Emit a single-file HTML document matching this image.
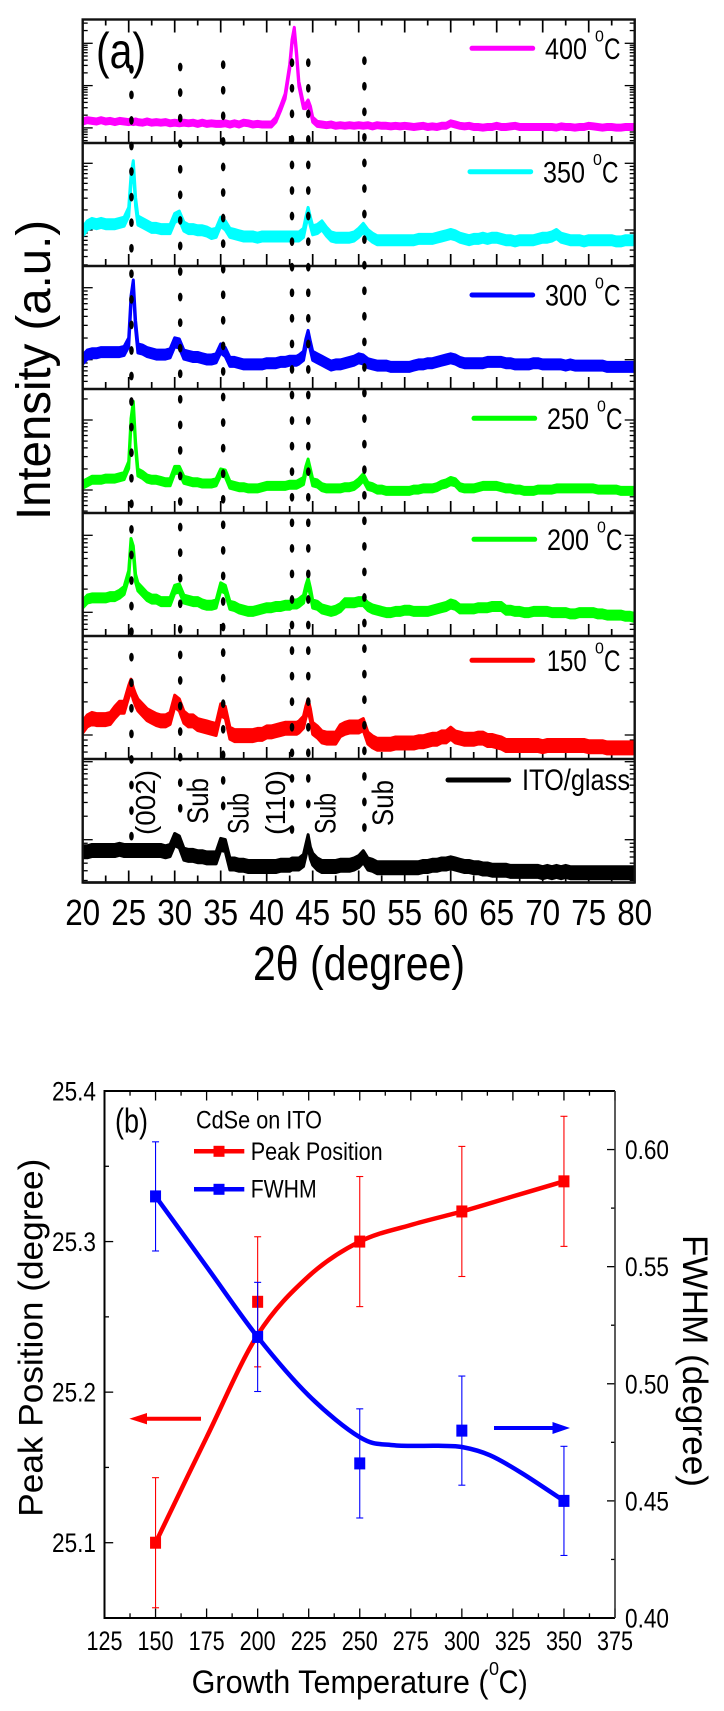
<!DOCTYPE html>
<html lang="en">
<head>
<meta charset="utf-8">
<title>CdSe on ITO XRD chart</title>
<style>
html,body{margin:0;padding:0;background:#fff;}
svg{display:block;font-family:"Liberation Sans",sans-serif;}
text{fill:#000;}
.spec{stroke-width:3;stroke-linejoin:round;stroke-linecap:round;}
</style>
</head>
<body>
<svg id="chart" xmlns="http://www.w3.org/2000/svg" width="724" height="1711" viewBox="0 0 724 1711">
<defs><clipPath id="plotA"><rect x="82.7" y="19.5" width="552" height="863"/></clipPath></defs>
<g id="ticksA"></g>
<g id="seriesA" clip-path="url(#plotA)"></g>
<g id="framesA"></g>
<g id="dotsA"></g>

<text x="96" y="68" font-size="50" textLength="50" lengthAdjust="spacingAndGlyphs">(a)</text>

<g>
<line x1="472" x2="532.7" y1="48.3" y2="48.3" stroke="#ff00ff" stroke-width="5" stroke-linecap="round"/>
<text x="545" y="59" font-size="30" textLength="42" lengthAdjust="spacingAndGlyphs">400</text>
<text x="595" y="41.7" font-size="16">0</text>
<text x="604" y="59" font-size="30" textLength="16.5" lengthAdjust="spacingAndGlyphs">C</text>
</g>
<g>
<line x1="470" x2="530.7" y1="171.7" y2="171.7" stroke="#00ffff" stroke-width="5" stroke-linecap="round"/>
<text x="543" y="182.4" font-size="30" textLength="42" lengthAdjust="spacingAndGlyphs">350</text>
<text x="593" y="165.1" font-size="16">0</text>
<text x="602" y="182.4" font-size="30" textLength="16.5" lengthAdjust="spacingAndGlyphs">C</text>
</g>
<g>
<line x1="472" x2="532.7" y1="295" y2="295" stroke="#0000ff" stroke-width="5" stroke-linecap="round"/>
<text x="545" y="305.7" font-size="30" textLength="42" lengthAdjust="spacingAndGlyphs">300</text>
<text x="595" y="288.4" font-size="16">0</text>
<text x="604" y="305.7" font-size="30" textLength="16.5" lengthAdjust="spacingAndGlyphs">C</text>
</g>
<g>
<line x1="474" x2="534.7" y1="418.3" y2="418.3" stroke="#00ff00" stroke-width="5" stroke-linecap="round"/>
<text x="547" y="429" font-size="30" textLength="42" lengthAdjust="spacingAndGlyphs">250</text>
<text x="597" y="411.7" font-size="16">0</text>
<text x="606" y="429" font-size="30" textLength="16.5" lengthAdjust="spacingAndGlyphs">C</text>
</g>
<g>
<line x1="474" x2="534.7" y1="539.3" y2="539.3" stroke="#00ff00" stroke-width="5" stroke-linecap="round"/>
<text x="547" y="550" font-size="30" textLength="42" lengthAdjust="spacingAndGlyphs">200</text>
<text x="597" y="532.7" font-size="16">0</text>
<text x="606" y="550" font-size="30" textLength="16.5" lengthAdjust="spacingAndGlyphs">C</text>
</g>
<g>
<line x1="472" x2="532.7" y1="660.3" y2="660.3" stroke="#ff0000" stroke-width="5" stroke-linecap="round"/>
<text x="546.7" y="671" font-size="30" textLength="40" lengthAdjust="spacingAndGlyphs">150</text>
<text x="595" y="653.7" font-size="16">0</text>
<text x="604" y="671" font-size="30" textLength="16.5" lengthAdjust="spacingAndGlyphs">C</text>
</g>
<g>
<line x1="448" x2="508.7" y1="780" y2="780" stroke="#000" stroke-width="5" stroke-linecap="round"/>
<text x="522" y="790" font-size="30" textLength="108" lengthAdjust="spacingAndGlyphs">ITO/glass</text>
</g>

<text transform="translate(155 835) rotate(-90)" font-size="28" textLength="65" lengthAdjust="spacingAndGlyphs">(002)</text>
<text transform="translate(208 824) rotate(-90)" font-size="30" textLength="46" lengthAdjust="spacingAndGlyphs">Sub</text>
<text transform="translate(248.4 834) rotate(-90)" font-size="30" textLength="41" lengthAdjust="spacingAndGlyphs">Sub</text>
<text transform="translate(285 835) rotate(-90)" font-size="28" textLength="65" lengthAdjust="spacingAndGlyphs">(110)</text>
<text transform="translate(335.5 834) rotate(-90)" font-size="30" textLength="41" lengthAdjust="spacingAndGlyphs">Sub</text>
<text transform="translate(393 826) rotate(-90)" font-size="30" textLength="46" lengthAdjust="spacingAndGlyphs">Sub</text>

<g id="xLabelsA"></g>
<text x="253" y="980" font-size="48" textLength="212" lengthAdjust="spacingAndGlyphs">2θ (degree)</text>
<text transform="translate(50 520) rotate(-90)" font-size="48" textLength="300" lengthAdjust="spacingAndGlyphs">Intensity (a.u.)</text>

<g id="panelB"></g>

<text x="115" y="1132.7" font-size="34" textLength="33" lengthAdjust="spacingAndGlyphs">(b)</text>
<text x="196" y="1128.3" font-size="25" textLength="126" lengthAdjust="spacingAndGlyphs">CdSe on ITO</text>
<g>
<line x1="194" x2="244.3" y1="1151.3" y2="1151.3" stroke="#ff0000" stroke-width="4.5"/>
<rect x="213.5" y="1145.8" width="11" height="11" fill="#ff0000"/>
<text x="250.7" y="1160" font-size="25" textLength="132" lengthAdjust="spacingAndGlyphs">Peak Position</text>
</g>
<g>
<line x1="194" x2="244.3" y1="1189.3" y2="1189.3" stroke="#0000ff" stroke-width="4.5"/>
<rect x="213.5" y="1183.8" width="11" height="11" fill="#0000ff"/>
<text x="250.7" y="1197.7" font-size="25" textLength="66" lengthAdjust="spacingAndGlyphs">FWHM</text>
</g>
<g>
<line x1="201" x2="140" y1="1418.7" y2="1418.7" stroke="#ff0000" stroke-width="4"/>
<polygon points="129.3,1418.7 147,1413 147,1424.4" fill="#ff0000"/>
</g>
<g>
<line x1="494" x2="558" y1="1428" y2="1428" stroke="#0000ff" stroke-width="4"/>
<polygon points="570,1428 552.5,1422 552.5,1434" fill="#0000ff"/>
</g>
<text x="191.6" y="1693" font-size="32" textLength="297" lengthAdjust="spacingAndGlyphs">Growth Temperature (</text>
<text x="489" y="1675" font-size="18">0</text>
<text x="498.6" y="1693" font-size="32" textLength="29" lengthAdjust="spacingAndGlyphs">C)</text>
<text transform="translate(42.5 1516.7) rotate(-90)" font-size="34" textLength="358" lengthAdjust="spacingAndGlyphs">Peak Position (degree)</text>
<text transform="translate(683 1235) rotate(90)" font-size="35" textLength="252" lengthAdjust="spacingAndGlyphs">FWHM (degree)</text>
</svg>

<script>
const twoTheta = [20,20.5,21,21.5,22,22.5,23,23.5,24,24.5,25,25.25,25.5,25.75,26,26.5,27,27.5,28,28.5,29,29.5,
30,30.5,31,31.5,32,32.5,33,33.5,34,34.5,35,35.5,36,36.5,37,37.5,38,38.5,39,39.5,
40,40.5,41,41.5,42,42.5,42.75,43,43.25,43.5,44,44.25,44.5,44.75,45,45.5,46,46.5,47,47.5,48,48.5,49,49.5,
50,50.5,51,51.5,52,52.5,53,53.5,54,54.5,55,55.5,56,56.5,57,57.5,58,58.5,59,59.5,
60,60.5,61,61.5,62,62.5,63,63.5,64,64.5,65,65.5,66,66.5,67,67.5,68,68.5,69,69.5,
70,70.5,71,71.5,72,72.5,73,73.5,74,74.5,75,75.5,76,76.5,77,77.5,78,78.5,79,79.5,80];

const intensity400 = [17.5,18.5,18,17.5,18.5,17.5,18,17,18,17.5,17,17.5,17,17.5,17,16.5,17.5,16.5,17,16.5,17,16,
16.5,16,16.5,16,16.5,15.5,16.5,15.5,16,15.5,15.5,16,15,16,15,16.5,16,15,15.5,15,
15,15,19,28,38,62,82,92,72,48,30,30,33,28,19,15.5,15,14.5,15,14,14.5,14,14.5,14,
14.5,14,14.5,13.5,14.5,14,14,13.5,14,13.5,14,13.5,13,13.5,14,13,13.5,13,14,14,
16,15,14,13.5,14,13,13,12.5,13,13,14,13,13,13.5,14,13,13,13,13,13,
13,13,13,12.5,13.5,13,13,12.5,13,13,14,13.5,13,12.5,13,13,12.5,12.5,13,13,13];

const intensity350 = [28,33,35,34,35,34,34,34,35,36,44,70,82,52,37,35,33,31,31,30,30,30,
39,41,32,30,30,29,29,28,26,27,36,33,27,26,25,24,24,24,23,24,
24,24,24,24,24,24,24,24,24,24,27,36,44,36,29,30,33,28,24,23,23,23,23,24,
27,31,26,23,21,21,21,21,21,21,21,21,21,22,22,22,22,23,24,25,
26,25,23,22,21,22,22,23,22,23,23,22,21,21,20,21,21,21,21,22,
23,23,24,26,23,22,21,21,21,20,21,21,21,21,21,21,20,20,21,21,21];

const intensity300 = [24,28,29,29,30,30,30,30,30,31,38,72,85,52,33,32,30,29,28,28,28,29,
38,37,28,27,26,26,25,24,24,25,33,30,22,22,21,20,20,20,20,20,
21,21,21,22,22,23,23,23,23,24,27,37,44,35,27,25,23,21,19,20,20,21,22,23,
25,24,21,20,19,19,19,18,18,18,18,18,19,20,20,21,21,22,23,24,
25,24,22,21,21,21,21,21,22,22,22,22,21,21,20,20,20,20,21,21,
20,20,20,20,20,19,20,19,19,19,19,19,19,19,18,18,18,18,18,18,18];

const intensity250 = [23,25,27,27,27,28,28,28,29,30,39,74,88,55,33,31,28,27,27,26,25,25,
35,35,27,26,25,25,24,24,24,25,33,32,23,22,21,21,20,20,20,21,
22,22,22,22,22,23,23,23,23,24,26,35,41,33,25,24,21,20,20,20,20,21,21,22,
25,29,22,21,19,19,18,18,18,18,18,18,19,19,20,20,20,21,23,24,
26,25,21,20,20,20,21,22,22,22,22,21,20,20,19,19,18,18,18,19,
19,19,19,20,20,20,20,20,20,20,20,20,19,19,19,19,19,18,18,18,18];

const intensity200 = [26,30,31,31,31,31,32,32,34,37,50,76,70,47,40,36,32,30,30,28,28,28,
38,39,30,29,28,28,26,25,25,26,40,38,25,24,22,21,20,20,21,22,
23,23,24,24,25,25,26,26,26,27,30,38,44,36,26,25,22,21,20,21,23,27,27,27,
28,28,24,22,21,20,19,19,20,20,21,21,20,20,20,20,21,22,23,24,
26,25,22,22,22,22,23,23,23,24,24,24,21,21,20,20,19,19,20,20,
20,20,19,19,19,19,18,18,19,19,19,19,18,18,17,17,17,17,16,16,15];

const intensity150 = [26,31,33,32,32,32,33,38,42,42,55,60,53,48,44,40,36,34,32,31,31,33,
47,44,34,31,31,28,27,26,25,24,40,38,21,19,19,19,19,19,20,20,
22,22,23,24,25,25,25,25,25,26,30,38,44,36,25,22,18,17,17,17,23,25,26,26,
26,28,17,14,12,12,12,12,13,13,13,13,13,14,14,15,16,16,18,18,
21,18,17,16,16,16,17,17,15,15,14,13,11,11,11,11,11,11,11,11,
10,11,11,11,11,11,11,11,11,11,10,10,10,10,9,9,9,9,9,9,9];

const intensityIto = [25,25,26,26,26,26,26,26,27,26,26,26,26,26,26,26,26,26,26,26,25,26,
35,33,23,22,22,21,21,20,20,20,31,30,15,15,14,14,13,13,13,13,
13,13,13,14,14,14,15,15,15,15,18,26,34,24,19,15,13,13,13,13,14,14,14,15,
17,21,15,14,12,12,12,12,12,12,12,12,12,12,13,13,14,14,15,15,
16,15,14,13,13,12,12,11,11,10,10,10,10,9,9,9,9,9,9,9,
8,9,8,9,8,9,8,8,8,8,8,8,8,8,8,8,8,8,8,8,8];

const seriesNames = ['400','350','300','250','200','150','ito-glass'];
const xTickLabelsA = ['20','25','30','35','40','45','50','55','60','65','70','75','80'];
const guidePeaks = [25.3,30.6,35.27,42.75,44.52,50.62];

const temperatures = [150,200,250,300,350];
const peakPosition = [25.1,25.26,25.3,25.32,25.34];
const peakPositionError = [0.0432,0.0432,0.0432,0.0432,0.0432];
const fwhm = [0.58,0.52,0.466,0.48,0.45];
const fwhmError = [0.0233,0.0233,0.0233,0.0233,0.0233];
const peakFitT = [150,175,200,225,250,275,300,325,350];
const peakFitV = [25.1,25.17,25.238,25.277,25.3,25.311,25.32,25.33,25.34];
const fwhmFitT = [150,175,200,225,250,266,288.5,300,313.7,329.5,350];
const fwhmFitV = [0.58,0.55,0.52,0.495,0.4772,0.4738,0.4735,0.473,0.4695,0.4618,0.45];
const xTickLabelsB = ['125','150','175','200','225','250','275','300','325','350','375'];
const leftTickLabels = ['25.1','25.2','25.3','25.4'];
const rightTickLabels = ['0.40','0.45','0.50','0.55','0.60'];

const NS = 'http://www.w3.org/2000/svg';
function make(parent, tag, attrs, txt){
  const el = document.createElementNS(NS, tag);
  for (const k in attrs) el.setAttribute(k, attrs[k]);
  if (txt !== undefined) el.textContent = txt;
  parent.appendChild(el);
  return el;
}

/* ---------- panel (a) ---------- */
const allSeries = [intensity400,intensity350,intensity300,intensity250,intensity200,intensity150,intensityIto];
const panelTops = [19.5,143,266,389,513,636,759];
const panelBottoms = [143,266,389,513,636,759,882.5];
const lineColors = ['#ff00ff','#00ffff','#0000ff','#00ff00','#00ff00','#ff0000','#000000'];
const bandHalfHeight = [2.5,4.5,4.5,3.5,4,6,6];
const xLeftA = 82.7, xRightA = 634.7;
function xA(t){ return xLeftA + (t - 20) * (xRightA - xLeftA) / 60; }
function yA(u, i){ return panelBottoms[i] - u * 1.23; }

const ticksA = document.getElementById('ticksA');
const seriesA = document.getElementById('seriesA');
const framesA = document.getElementById('framesA');
const dotsA = document.getElementById('dotsA');
const xLabelsA = document.getElementById('xLabelsA');

// log-scale y ticks: one major reference and decade height per stacked panel
const logMajor = [43.3,163.3,287.7,420,535.3,735,761.7];
const logDecade = [42.3,66.7,72,70,77,110,78];
const logMult = [1,2,3,4,5,6,7,8,9];

allSeries.forEach(function(vals, i){
  const top = panelTops[i], bot = panelBottoms[i];
  // bottom x ticks of each panel
  for (let t = 20; t <= 80; t += 2.5){
    const major = (t % 5 === 0);
    const tick = make(ticksA, 'line', {x1:xA(t), x2:xA(t), y1:bot, y2:bot - (major ? 12 : 7), stroke:'#000', 'stroke-width':1.7});
    
    
  }
  // log y ticks, both sides
  for (let dec = -3; dec <= 3; dec++){
    logMult.forEach(function(k){
      const y = logMajor[i] + logDecade[i] * (-dec - Math.log10(k));
      if (y <= top + 1 || y >= bot - 1) return;
      const len = (k === 1) ? 10 : 5;
      const tickL = make(ticksA, 'line', {x1:xLeftA, x2:xLeftA + len, y1:y, y2:y, stroke:'#000', 'stroke-width':1.3});
      
      
      const tickR = make(ticksA, 'line', {x1:xRightA, x2:xRightA - len, y1:y, y2:y, stroke:'#000', 'stroke-width':1.3});
      
      
    });
  }
  // spectrum: noisy trace drawn as a band of fixed vertical thickness around the values
  const h = bandHalfHeight[i];
  const upper = vals.map(function(v, k){ return xA(twoTheta[k]).toFixed(1) + ' ' + (yA(v, i) - h).toFixed(1); });
  const lower = vals.map(function(v, k){ return xA(twoTheta[k]).toFixed(1) + ' ' + (yA(v, i) + h).toFixed(1); }).reverse();
  const line = make(seriesA, 'path', {d:'M' + upper.join(' L') + ' L' + lower.join(' L') + ' Z', fill:lineColors[i], stroke:lineColors[i], 'class':'spec'});
  
  
  // panel divider
  const div = make(framesA, 'line', {x1:xLeftA, x2:xRightA, y1:bot, y2:bot, stroke:'#111', 'stroke-width':2.4});
  
  
});

// top axis ticks (first panel only)
for (let t = 20; t <= 80; t += 2.5){
  const major = (t % 5 === 0);
  const tick = make(ticksA, 'line', {x1:xA(t), x2:xA(t), y1:19.5, y2:19.5 + (major ? 13 : 6), stroke:'#000', 'stroke-width':1.7});
  
  
}

const frameA = make(framesA, 'rect', {x:xLeftA, y:19.5, width:xRightA - xLeftA, height:863, fill:'none', stroke:'#111', 'stroke-width':2.4});



xTickLabelsA.forEach(function(lab){
  const t = make(xLabelsA, 'text', {x:xA(+lab), y:925, 'font-size':36, 'text-anchor':'middle', textLength:35, lengthAdjust:'spacingAndGlyphs'}, lab);
  
  
});

// vertical dotted guides
const guideFirstY = [69.3,67,64.7,62.7,62.7,60.7];
const guideCount = [31,30,30,31,30,31];
guidePeaks.forEach(function(p, i){
  for (let n = 0; n < guideCount[i]; n++){
    const d = make(dotsA, 'ellipse', {cx:xA(p), cy:guideFirstY[i] + n * 25.56, rx:2.3, ry:4.4, fill:'#000'});
    
    
  }
});

/* ---------- panel (b) ---------- */
const panelB = document.getElementById('panelB');
const bL = 104.5, bR = 615, bT = 1091, bB = 1618;
function xB(t){ return bL + (t - 125) * (bR - bL) / 250; }
function yL(v){ return bB - (v - 25.05) * (bB - bT) / 0.35; }
function yR(v){ return bB - (v - 0.4) * (bB - bT) / 0.225; }

function smoothPath(xs, ys){
  let d = 'M' + xs[0].toFixed(1) + ' ' + ys[0].toFixed(1);
  for (let i = 0; i < xs.length - 1; i++){
    const x0 = xs[Math.max(i - 1, 0)], y0 = ys[Math.max(i - 1, 0)];
    const x1 = xs[i], y1 = ys[i], x2 = xs[i + 1], y2 = ys[i + 1];
    const x3 = xs[Math.min(i + 2, xs.length - 1)], y3 = ys[Math.min(i + 2, xs.length - 1)];
    d += ' C' + (x1 + (x2 - x0) / 6).toFixed(1) + ' ' + (y1 + (y2 - y0) / 6).toFixed(1) + ' ' +
         (x2 - (x3 - x1) / 6).toFixed(1) + ' ' + (y2 - (y3 - y1) / 6).toFixed(1) + ' ' +
         x2.toFixed(1) + ' ' + y2.toFixed(1);
  }
  return d;
}

// x ticks
for (let t = 125; t <= 375; t += 12.5){
  const major = ((t - 125) % 25 === 0);
  const len = major ? 9.5 : 4.7;
  const tb = make(panelB, 'line', {x1:xB(t), x2:xB(t), y1:bB, y2:bB - len, stroke:'#000', 'stroke-width':1.3});
  
  
  const tt = make(panelB, 'line', {x1:xB(t), x2:xB(t), y1:bT, y2:bT + len, stroke:'#000', 'stroke-width':1.3});
  
  
}
xTickLabelsB.forEach(function(lab){
  const t = make(panelB, 'text', {x:xB(+lab), y:1650, 'font-size':27, 'text-anchor':'middle', textLength:36, lengthAdjust:'spacingAndGlyphs'}, lab);
  
  
});

// left axis ticks
for (let k = 0; k <= 7; k++){
  const v = 25.05 + k * 0.05;
  const major = (k % 2 === 1);
  const tick = make(panelB, 'line', {x1:bL, x2:bL + (major ? 8.7 : 4.5), y1:yL(v), y2:yL(v), stroke:'#000', 'stroke-width':1.3});
  
  
}
leftTickLabels.forEach(function(lab){
  const t = make(panelB, 'text', {x:96, y:yL(+lab) + 9.5, 'font-size':27, 'text-anchor':'end', textLength:44, lengthAdjust:'spacingAndGlyphs'}, lab);
  
  
});

// right axis ticks
for (let k = 0; k <= 8; k++){
  const v = 0.4 + k * 0.025;
  const major = (k % 2 === 0);
  const tick = make(panelB, 'line', {x1:bR, x2:bR - (major ? 8 : 4), y1:yR(v), y2:yR(v), stroke:'#000', 'stroke-width':1.3});
  
  
}
rightTickLabels.forEach(function(lab){
  const t = make(panelB, 'text', {x:625, y:yR(+lab) + 9.5, 'font-size':27, textLength:44, lengthAdjust:'spacingAndGlyphs'}, lab);
  
  
});

// frame
const frameB = make(panelB, 'path', {d:'M' + bR + ' ' + bT + ' H' + bL + ' V' + bB + ' H' + bR, fill:'none', stroke:'#000', 'stroke-width':2});


const rightAxis = make(panelB, 'line', {x1:bR, x2:bR, y1:bT, y2:bB, stroke:'#333', 'stroke-width':1.6});



// fit curves
const peakFit = make(panelB, 'path', {d:smoothPath(peakFitT.map(xB), peakFitV.map(yL)), fill:'none', stroke:'#ff0000', 'stroke-width':4.5});


const fwhmFit = make(panelB, 'path', {d:smoothPath(fwhmFitT.map(xB), fwhmFitV.map(yR)), fill:'none', stroke:'#0000ff', 'stroke-width':4.5});



function drawPoints(vals, errs, yFn, color, nameBase){
  temperatures.forEach(function(t, i){
    const x = xB(t), y = yFn(vals[i]), yTop = yFn(vals[i] + errs[i]), yBot = yFn(vals[i] - errs[i]);
    const g = make(panelB, 'g', {});
    
    
    make(g, 'line', {x1:x, x2:x, y1:yTop, y2:yBot, stroke:color, 'stroke-width':1.1});
    make(g, 'line', {x1:x - 3.5, x2:x + 3.5, y1:yTop, y2:yTop, stroke:color, 'stroke-width':1.1});
    make(g, 'line', {x1:x - 3.5, x2:x + 3.5, y1:yBot, y2:yBot, stroke:color, 'stroke-width':1.1});
    make(g, 'rect', {x:x - 5.5, y:y - 6, width:11, height:12, fill:color});
  });
}
drawPoints(peakPosition, peakPositionError, yL, '#ff0000', 'peak-position');
drawPoints(fwhm, fwhmError, yR, '#0000ff', 'fwhm');
</script>
</body>
</html>
